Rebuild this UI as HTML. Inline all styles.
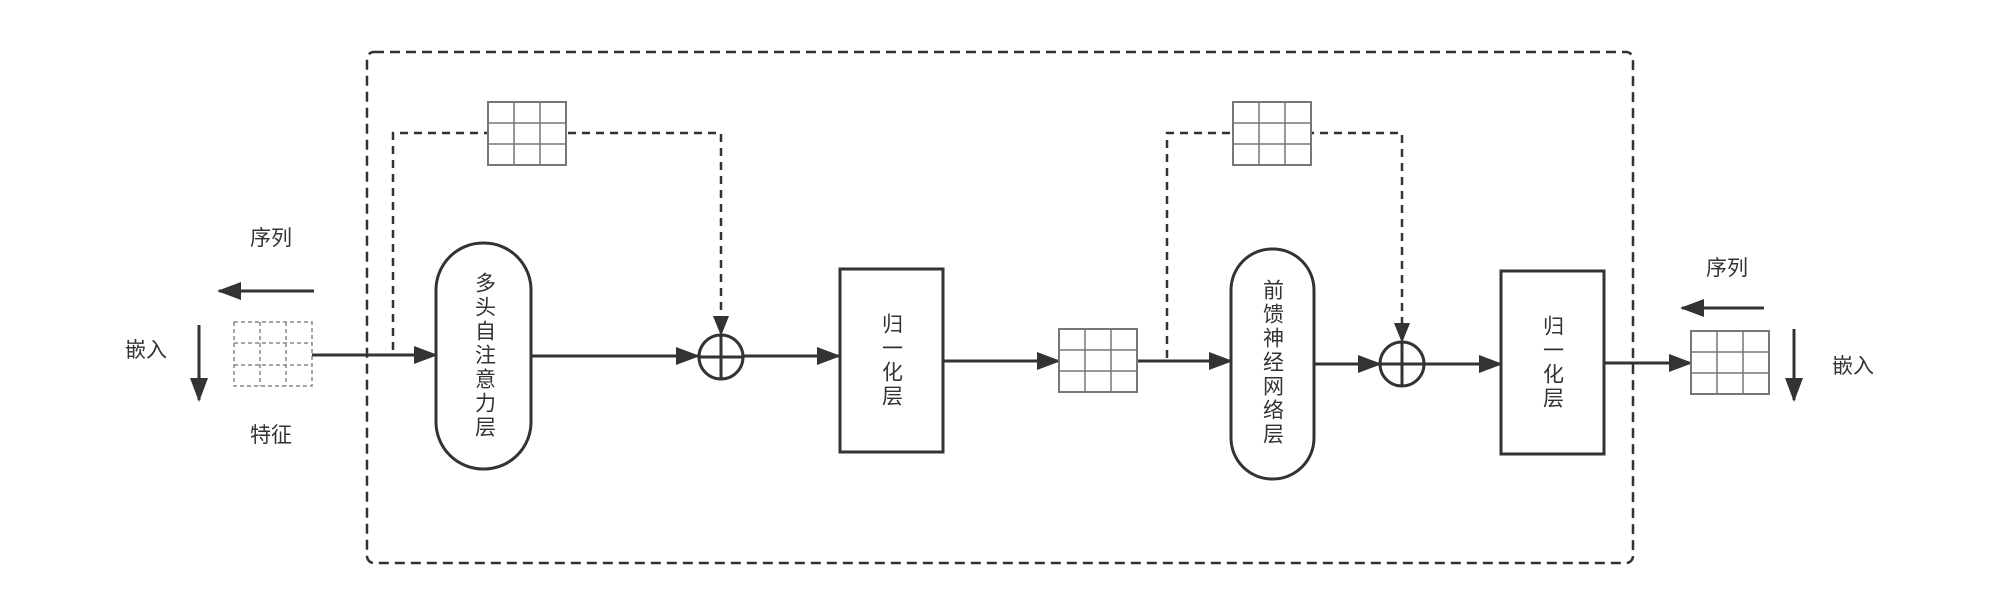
<!DOCTYPE html>
<html><head><meta charset="utf-8"><style>
body{margin:0;background:#fff;}
#c{position:relative;width:1999px;height:615px;overflow:hidden;font-family:"Liberation Sans","Noto Sans CJK SC",sans-serif;color:#333;}
.t{position:absolute;font-size:21px;line-height:1;white-space:nowrap;}
.v{position:absolute;writing-mode:vertical-rl;font-size:21px;line-height:1;letter-spacing:3px;transform:translate(-50%,-50%);}
</style></head><body><div id="c">
<svg width="1999" height="615" style="position:absolute;left:0;top:0">
<defs>
<marker id="a" markerWidth="10" markerHeight="10" refX="9" refY="5" orient="auto" markerUnits="userSpaceOnUse" viewBox="0 0 10 10"><path d="M0,0L10,5L0,10z" fill="#333"/></marker>
<marker id="b" markerWidth="24" markerHeight="18" refX="22" refY="9" orient="auto" markerUnits="userSpaceOnUse" viewBox="0 0 24 18"><path d="M0,0L24,9L0,18z" fill="#333"/></marker>
<g id="g"><rect x="0" y="0" width="78" height="63" fill="#fff"/><path d="M26,0V63M52,0V63M0,21H78M0,42H78" stroke="#777" stroke-width="1.5"/><rect x="0" y="0" width="78" height="63" fill="none" stroke="#777" stroke-width="2"/></g>
</defs>
<rect x="367" y="52" width="1266" height="511" rx="7" fill="none" stroke="#333" stroke-width="2.5" stroke-dasharray="10,6"/>
<!-- skip 1 -->
<path d="M393,350V133H721V318" fill="none" stroke="#333" stroke-width="2.5" stroke-dasharray="8,6"/>
<path d="M713,316L729,316L721,336z" fill="#333"/>
<use href="#g" x="488" y="102"/>
<!-- skip 2 -->
<path d="M1167,358V133H1402V325" fill="none" stroke="#333" stroke-width="2.5" stroke-dasharray="8,6"/>
<path d="M1394,323L1410,323L1402,343z" fill="#333"/>
<use href="#g" x="1233" y="102"/>
<!-- input grid dashed -->
<g stroke="#888" stroke-width="1.5" stroke-dasharray="4,3" fill="none"><rect x="234" y="322" width="78" height="64"/><path d="M260,322V386M286,322V386M234,343H312M234,365H312"/></g>
<!-- main flow -->
<g stroke="#333" stroke-width="3" fill="none">
<line x1="312" y1="355" x2="436" y2="355" marker-end="url(#b)"/>
<line x1="531" y1="356" x2="698" y2="356" marker-end="url(#b)"/>
<line x1="744" y1="356" x2="839" y2="356" marker-end="url(#b)"/>
<line x1="943" y1="361" x2="1059" y2="361" marker-end="url(#b)"/>
<line x1="1137" y1="361" x2="1231" y2="361" marker-end="url(#b)"/>
<line x1="1314" y1="364" x2="1380" y2="364" marker-end="url(#b)"/>
<line x1="1424" y1="364" x2="1501" y2="364" marker-end="url(#b)"/>
<line x1="1604" y1="363" x2="1691" y2="363" marker-end="url(#b)"/>
<line x1="314" y1="291" x2="219" y2="291" marker-end="url(#b)"/>
<line x1="199" y1="325" x2="199" y2="400" marker-end="url(#b)"/>
<line x1="1764" y1="308" x2="1682" y2="308" marker-end="url(#b)"/>
<line x1="1794" y1="329" x2="1794" y2="400" marker-end="url(#b)"/>
</g>
<use href="#g" x="1059" y="329"/>
<use href="#g" x="1691" y="331"/>
<!-- nodes -->
<rect x="436" y="243" width="95" height="226" rx="47" fill="#fff" stroke="#333" stroke-width="3"/>
<rect x="840" y="269" width="103" height="183" fill="#fff" stroke="#333" stroke-width="3"/>
<rect x="1231" y="249" width="83" height="230" rx="41" fill="#fff" stroke="#333" stroke-width="3"/>
<rect x="1501" y="271" width="103" height="183" fill="#fff" stroke="#333" stroke-width="3"/>
<g stroke="#333" stroke-width="3" fill="#fff"><circle cx="721" cy="357" r="22"/><path d="M699,357H743M721,335V379"/>
<circle cx="1402" cy="364" r="22"/><path d="M1380,364H1424M1402,342V386"/></g>
</svg>
<div class="t" style="left:250px;top:228px">序列</div>
<div class="t" style="left:125px;top:340px">嵌入</div>
<div class="t" style="left:250px;top:425px">特征</div>
<div class="t" style="left:1706px;top:258px">序列</div>
<div class="t" style="left:1832px;top:356px">嵌入</div>
<div class="v" style="left:484px;top:356px">多头自注意力层</div>
<div class="v" style="left:891px;top:361px">归一化层</div>
<div class="v" style="left:1272px;top:363px">前馈神经网络层</div>
<div class="v" style="left:1552px;top:363px">归一化层</div>
</div></body></html>
